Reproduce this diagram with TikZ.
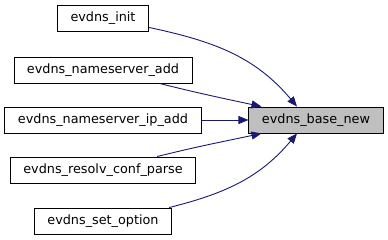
\documentclass[tikz,border=0pt]{standalone}
\usepackage{fontspec}
\setmainfont{DejaVu Sans}
\usetikzlibrary{arrows.meta}
\definecolor{edgeblue}{HTML}{191970}
\definecolor{hlgray}{HTML}{BFBFBF}
\begin{document}
\begin{tikzpicture}[
    x=1pt, y=-1pt,
    fn/.style={draw, rectangle, line width=0.9pt, minimum height=26pt, inner xsep=13pt, inner ysep=0pt, fill=white, font=\fontsize{12.8}{14}\selectfont},
    cur/.style={fn, fill=hlgray},
    arrow/.style={-{Triangle[length=10pt, width=8pt]}, line width=0.9pt, draw=edgeblue},
]
\useasboundingbox (0,0) rectangle (388,240);

% Aufrufer
\node[fn] (init) at (103,18) {evdns\_init};
\node[fn] (nsadd) at (103,70) {evdns\_nameserver\_add};
\node[fn] (ipadd) at (103,120) {evdns\_nameserver\_ip\_add};
\node[fn] (resolv) at (103,170) {evdns\_resolv\_conf\_parse};
\node[fn] (setopt) at (103,221) {evdns\_set\_option};

% Funktion
\node[cur] (base) at (316,120) {evdns\_base\_new};

% Aufrufe
\draw[arrow] ([yshift=4pt]init.south east) to[out=-12, in=130] ([xshift=-19pt]base.north);
\draw[arrow] ([xshift=-33pt]nsadd.south east) to[out=-14, in=168] ([xshift=13pt]base.north west);
\draw[arrow] (ipadd) -- (base);
\draw[arrow] ([xshift=-39pt]resolv.north east) to[out=14, in=-168] ([xshift=13pt]base.south west);
\draw[arrow] ([xshift=-3pt]setopt.north east) to[out=14, in=-130] ([xshift=-19pt]base.south);
\end{tikzpicture}
\end{document}
